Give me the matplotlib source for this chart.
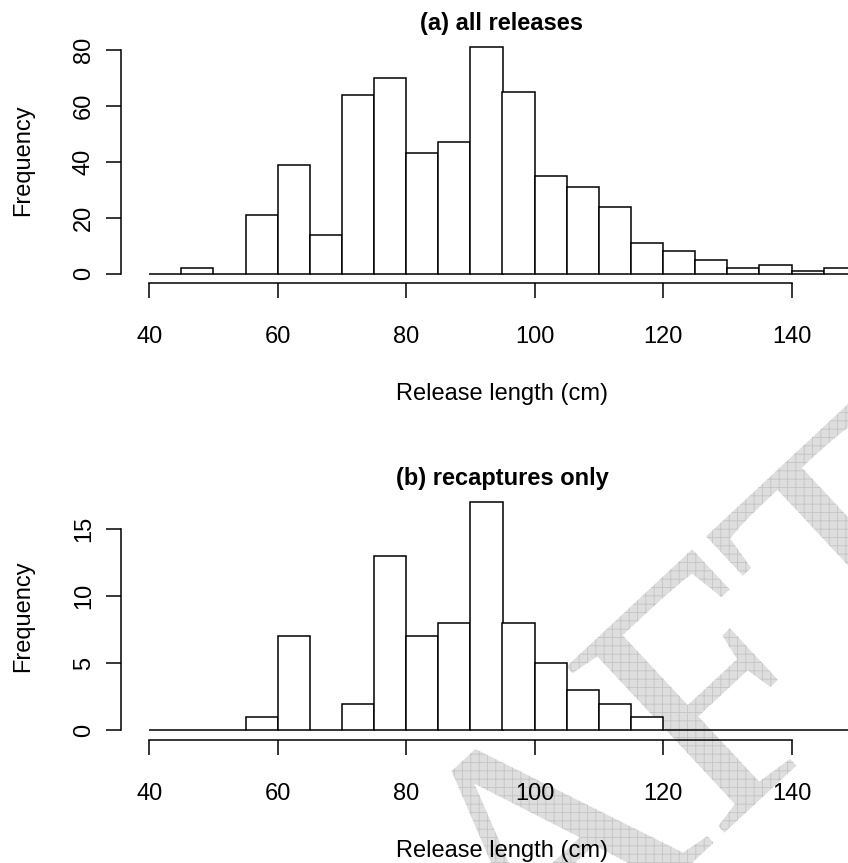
import numpy as np
import matplotlib
matplotlib.use("Agg")
import matplotlib.pyplot as plt
from matplotlib.textpath import TextPath
from matplotlib.patches import PathPatch
from matplotlib.font_manager import FontProperties
from matplotlib.transforms import Affine2D, blended_transform_factory

# ---- data ----
bin_edges = list(range(40, 155, 5))
all_releases = [0, 2, 0, 21, 39, 14, 64, 70, 43, 47, 81, 65, 35, 31, 24, 11, 8, 5, 2, 3, 1, 2]
recaptures = [0, 0, 0, 1, 7, 0, 2, 13, 7, 8, 17, 8, 5, 3, 2, 1, 0, 0, 0, 0, 0, 0]
x_ticks = [40, 60, 80, 100, 120, 140]
y_ticks_a = [0, 20, 40, 60, 80]
y_ticks_b = [0, 5, 10, 15]
titles = ["(a) all releases", "(b) recaptures only"]
xlabel = "Release length (cm)"
ylabel = "Frequency"
watermark = "DRAFT"

W, H = 848, 863
DPI = 100
FONT = "Liberation Sans"
FS = 17

plt.rcParams["hatch.linewidth"] = 0.6
fig = plt.figure(figsize=(W / DPI, H / DPI), dpi=DPI)
fig.patch.set_facecolor("white")


def fx(x):
    return x / W


def fy(y):
    return 1 - y / H


# ---- watermark (behind the axes) ----
fp = FontProperties(family="Liberation Serif")
tp = TextPath((0, 0), watermark, size=100, prop=fp)
em = 350.0
ang = 43
sx, sy = 175, 1345  # start of baseline, pixels from top-left
tr = Affine2D().scale(em / 100.0).rotate_deg(ang).translate(sx, H - sy)
wm = PathPatch(tr.transform_path(tp), facecolor="#dedede", edgecolor="#c4c4c4",
               linewidth=0, hatch="++", zorder=-5, transform=None)
fig.add_artist(wm)

# ---- panels ----
left, right = 121, 884
panels = [
    dict(top=38.1, bottom=282.8, counts=all_releases, yt=y_ticks_a, ymax=81, title=titles[0]),
    dict(top=492.9, bottom=739.6, counts=recaptures, yt=y_ticks_b, ymax=17, title=titles[1]),
]

for p in panels:
    ax = fig.add_axes([fx(left), fy(p["bottom"]), (right - left) / W, (p["bottom"] - p["top"]) / H])
    ax.set_facecolor("none")
    ax.bar(bin_edges[:-1], p["counts"], width=5, align="edge", facecolor="white",
           edgecolor="black", linewidth=1.1, zorder=2)
    ax.set_xlim(40 - 0.04 * 110, 150 + 0.04 * 110)
    ax.set_ylim(-0.04 * p["ymax"], p["ymax"] * 1.04)
    for s in ["top", "right"]:
        ax.spines[s].set_visible(False)
    ax.spines["left"].set_bounds(p["yt"][0], p["yt"][-1])
    ax.spines["bottom"].set_bounds(x_ticks[0], x_ticks[-1])
    for s in ["left", "bottom"]:
        ax.spines[s].set_linewidth(1.1)
    ax.set_xticks(x_ticks)
    ax.set_yticks(p["yt"])
    ax.set_xticklabels([])
    ax.set_yticklabels([])
    ax.tick_params(length=10.5, width=1.1, color="black")
    xt = blended_transform_factory(ax.transData, fig.transFigure)
    yt = blended_transform_factory(fig.transFigure, ax.transData)
    for t in x_ticks:
        ax.text(t, fy(p["bottom"] + 60.5), str(t), transform=xt, fontsize=FS, family=FONT,
                ha="center", va="baseline")
    for t in p["yt"]:
        ax.text(fx(90), t, str(t), transform=yt, fontsize=FS, family=FONT,
                ha="center", va="baseline", rotation=90, rotation_mode="anchor")
    fig.text(fx(502), fy(p["top"] - 8), p["title"], fontsize=FS, family=FONT,
             fontweight="bold", ha="center", va="baseline")
    fig.text(fx(502), fy(p["bottom"] + 117), xlabel, fontsize=FS, family=FONT,
             ha="center", va="baseline")
    fig.text(fx(29), fy((p["top"] + p["bottom"]) / 2), ylabel, fontsize=FS, family=FONT,
             ha="center", va="baseline", rotation=90, rotation_mode="anchor")

fig.savefig("out.png", dpi=DPI, facecolor="white")
